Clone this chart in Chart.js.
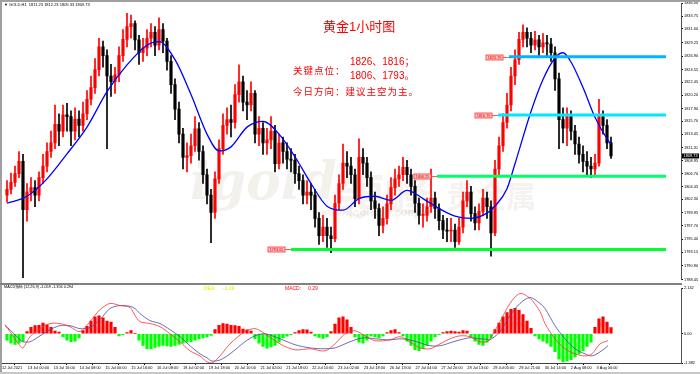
<!DOCTYPE html>
<html>
<head>
<meta charset="utf-8">
<script src="https://cdn.jsdelivr.net/npm/chart.js@4.4.1/dist/chart.umd.min.js"></script>
<style>
  html, body { margin:0; padding:0; background:#fff; }
  #wrap { position:relative; width:700px; height:374px; overflow:hidden; background:#fff; font-family:"Liberation Sans", Arial, sans-serif; }
  canvas { position:absolute; left:0; }
  .t { position:absolute; white-space:nowrap; line-height:1; }
  .cn { font-family:"Liberation Sans","Noto Sans CJK SC",sans-serif; color:#f00; }
  .wm { color:rgba(175,158,130,0.15); }
</style>
</head>
<body>
<div id="wrap">
  <div class="t wm" style="left:190px;top:150px;font:bold italic 52px 'DejaVu Serif';">igold</div>
  <div class="t wm" style="left:336px;top:158px;font:bold 48px 'Noto Sans CJK TC';">領峰</div>
  <div class="t wm" style="left:446px;top:172px;font:bold 30px 'Noto Sans CJK SC';">贵金属</div>
  <div class="t wm" style="left:318px;top:207px;font:bold 10px 'DejaVu Sans';">www.igoldhk.com</div>

  <canvas id="main" width="700" height="283" style="top:0"></canvas>
  <canvas id="macd" width="700" height="89" style="top:285px"></canvas>

  <div style="position:absolute;left:0;top:0;width:700px;height:2px;background:#a0a0a0"></div>
  <div style="position:absolute;left:0;top:0;width:2px;height:374px;background:#a0a0a0"></div>
  <div style="position:absolute;left:0;top:372px;width:700px;height:2px;background:#c8c8c8"></div>
  <div style="position:absolute;left:0;top:283px;width:682px;height:2px;background:#808080"></div>

  <div class="t" style="left:4px;top:3px;font-size:4px;color:#000">▼ GOLD,H1&nbsp; 1811.23 1812.23 1809.33 1809.73</div>

  <div class="t cn" style="left:323px;top:20px;font-size:13px;">黄金1小时图</div>
  <div class="t cn" style="left:293px;top:66px;font-size:9.5px;letter-spacing:1px;">关键点位：</div>
  <div class="t cn" style="left:350px;top:57px;font-size:10px;">1826、1816；</div>
  <div class="t cn" style="left:350px;top:71px;font-size:10px;">1806、1793。</div>
  <div class="t cn" style="left:293px;top:87px;font-size:9.5px;letter-spacing:1px;">今日方向：建议主空为主。</div>

  <div class="t" style="left:4px;top:286px;font-size:3.8px;color:#000;font-family:'Liberation Sans','Noto Sans CJK SC'">MACD指标 (12,26,9) -1.059 -1.356 0.294</div>
  <div class="t" style="left:204px;top:286px;font-size:5px;color:#e8e800">DEA:</div>
  <div class="t" style="left:223px;top:286px;font-size:5px;color:#e8e800">-1.19</div>
  <div class="t" style="left:285px;top:286px;font-size:5px;color:#f00">MACD:</div>
  <div class="t" style="left:308px;top:286px;font-size:5px;color:#f00">0.29</div>
</div>

<script>
// H1 gold candles, one per slot
const opens = [1803.0,1804.0,1805.2,1806.7,1808.8,1800.5,1803.5,1804.3,1803.0,1806.0,
1808.0,1810.5,1812.0,1815.2,1814.0,1816.8,1816.5,1814.0,1816.1,1815.0,
1817.0,1819.5,1821.5,1824.6,1828.5,1827.0,1823.5,1822.5,1823.7,1827.0,
1829.8,1832.0,1832.5,1829.7,1827.5,1828.3,1830.0,1831.0,1828.8,1831.5,
1829.5,1826.0,1822.0,1817.8,1813.5,1809.5,1809.8,1811.5,1814.4,1810.5,
1806.5,1803.0,1800.0,1805.8,1811.0,1815.0,1816.0,1815.5,1820.3,1822.5,
1819.0,1818.5,1820.5,1813.5,1814.5,1812.0,1812.5,1814.0,1808.4,1812.0,
1810.5,1809.2,1809.0,1806.7,1805.5,1803.0,1803.5,1803.0,1799.0,1796.0,
1797.5,1796.0,1795.5,1801.6,1805.0,1808.5,1808.0,1806.5,1802.4,1809.5,
1808.5,1806.0,1802.0,1800.7,1797.8,1799.0,1801.5,1804.3,1805.8,1806.5,
1807.8,1806.5,1804.5,1801.6,1799.5,1799.5,1801.0,1802.5,1800.7,1798.6,
1797.0,1796.8,1797.0,1795.0,1797.5,1802.0,1803.5,1799.8,1798.2,1800.2,
1802.5,1801.0,1796.5,1807.5,1811.5,1815.5,1818.5,1823.5,1826.3,1829.8,
1831.0,1830.0,1828.8,1829.7,1828.5,1829.2,1829.0,1827.5,1823.0,1816.0,
1814.5,1816.5,1814.0,1811.8,1810.0,1808.8,1808.0,1807.5,1808.5,1816.5,
1815.0,1812.0];
const closes = [1804.0,1805.2,1806.7,1808.8,1800.5,1803.5,1804.3,1803.0,1806.0,1808.0,
1810.5,1812.0,1815.2,1814.0,1816.8,1816.5,1814.0,1816.1,1815.0,1817.0,
1819.5,1821.5,1824.6,1828.5,1827.0,1823.5,1822.5,1823.7,1827.0,1829.8,
1832.0,1832.5,1829.7,1827.5,1828.3,1830.0,1831.0,1828.8,1831.5,1829.5,
1826.0,1822.0,1817.8,1813.5,1809.5,1809.8,1811.5,1814.4,1810.5,1806.5,
1803.0,1800.0,1805.8,1811.0,1815.0,1816.0,1815.5,1820.3,1822.5,1819.0,
1818.5,1820.5,1813.5,1814.5,1812.0,1812.5,1814.0,1808.4,1812.0,1810.5,
1809.2,1809.0,1806.7,1805.5,1803.0,1803.5,1803.0,1799.0,1796.0,1797.5,
1796.0,1795.5,1801.6,1805.0,1808.5,1808.0,1806.5,1802.4,1809.5,1808.5,
1806.0,1802.0,1800.7,1797.8,1799.0,1801.5,1804.3,1805.8,1806.5,1807.8,
1806.5,1804.5,1801.6,1799.5,1799.5,1801.0,1802.5,1800.7,1798.6,1797.0,
1796.8,1797.0,1795.0,1797.5,1802.0,1803.5,1799.8,1798.2,1800.2,1802.5,
1801.0,1796.5,1807.5,1811.5,1815.5,1818.5,1823.5,1826.3,1829.8,1831.0,
1830.0,1828.8,1829.7,1828.5,1829.2,1829.0,1827.5,1823.0,1816.0,1814.5,
1816.5,1814.0,1811.8,1810.0,1808.8,1808.0,1807.5,1808.5,1816.5,1815.0,
1812.0,1809.73];
const highs = [1805.5,1806.8,1808.0,1810.5,1810.0,1805.0,1806.0,1805.5,1807.0,1810.0,
1812.0,1814.0,1818.5,1817.0,1818.5,1818.8,1817.5,1818.0,1817.5,1819.0,
1821.0,1823.5,1826.5,1830.0,1829.5,1828.0,1825.5,1825.0,1828.5,1831.5,
1834.3,1834.0,1833.0,1830.5,1830.0,1831.5,1832.5,1832.0,1833.5,1832.5,
1830.0,1827.0,1823.0,1819.0,1814.5,1812.0,1813.5,1816.5,1815.5,1811.5,
1807.5,1804.0,1807.0,1812.5,1817.0,1818.0,1818.5,1822.0,1825.4,1823.5,
1821.0,1822.5,1821.0,1816.5,1815.5,1814.5,1816.5,1815.0,1813.5,1813.0,
1812.0,1811.0,1810.0,1808.0,1806.5,1805.5,1805.0,1804.0,1800.0,1799.5,
1799.0,1797.5,1803.0,1806.5,1811.8,1810.5,1809.5,1807.5,1812.7,1811.0,
1809.5,1807.0,1803.5,1801.5,1801.0,1803.0,1806.0,1807.5,1808.0,1809.5,
1809.0,1807.5,1805.5,1802.5,1801.5,1802.5,1807.5,1803.5,1801.5,1799.5,
1799.0,1799.0,1798.0,1799.0,1803.5,1805.5,1804.5,1801.0,1801.5,1804.0,
1803.5,1802.0,1809.0,1813.0,1817.0,1820.5,1825.0,1828.0,1831.0,1832.3,
1831.8,1831.0,1831.2,1830.5,1830.8,1830.5,1830.0,1828.5,1824.0,1818.0,
1818.0,1817.5,1815.0,1813.0,1811.5,1810.5,1809.5,1810.0,1819.5,1817.5,
1816.0,1813.0];
const lows = [1801.8,1803.2,1804.5,1806.0,1788.8,1798.5,1802.0,1801.0,1802.0,1805.0,
1807.0,1809.5,1811.0,1811.5,1813.0,1814.0,1811.5,1812.5,1813.0,1814.0,
1816.0,1818.5,1820.5,1823.5,1825.0,1811.0,1820.0,1820.5,1822.5,1826.0,
1828.5,1830.0,1828.0,1825.5,1826.0,1827.0,1828.5,1827.0,1828.0,1827.5,
1824.5,1820.5,1816.0,1812.0,1807.5,1807.0,1808.5,1810.5,1809.0,1805.0,
1801.5,1794.8,1799.0,1805.0,1810.0,1813.5,1813.0,1814.5,1819.0,1817.5,
1816.0,1817.5,1812.0,1811.5,1810.0,1810.0,1811.0,1807.0,1807.5,1808.5,
1807.5,1807.0,1805.0,1804.0,1801.5,1801.5,1800.5,1797.5,1794.5,1795.0,
1794.0,1793.1,1795.0,1800.5,1804.0,1806.0,1805.0,1801.0,1801.5,1806.5,
1804.5,1800.5,1799.0,1796.0,1796.5,1798.0,1800.5,1803.0,1804.5,1805.5,
1805.0,1803.0,1800.0,1798.0,1797.5,1798.5,1800.0,1799.0,1797.0,1795.5,
1795.0,1795.0,1794.0,1794.5,1796.5,1801.0,1798.5,1797.0,1797.0,1799.5,
1799.0,1792.5,1796.0,1806.5,1810.5,1814.5,1817.5,1822.0,1825.5,1828.5,
1828.5,1827.5,1828.0,1827.0,1827.5,1827.0,1826.0,1821.0,1811.0,1812.0,
1811.5,1812.5,1810.0,1808.5,1807.0,1806.5,1806.0,1806.2,1808.0,1813.5,
1811.0,1809.3];

// blue moving average, sampled
const maIdx = [0,5,10,15,20,25,30,35,38,42,46,50,53,56,60,64,68,72,76,80,84,88,92,96,100,104,108,112,116,120,122,125,127,131,134,137,139,141,144,147,150,151];
const maVal = [1801.6,1802.8,1805.8,1810.1,1814.7,1820.8,1825.4,1828.8,1829.4,1826.3,1820.3,1813.5,1810.6,1811.3,1814.7,1815.7,1813.5,1809.6,1805.0,1801.1,1800.4,1802.4,1802.8,1802.1,1803.8,1802.4,1800.7,1799.4,1799.0,1799.9,1801.1,1804.1,1808.4,1817.4,1822.9,1826.6,1827.5,1825.9,1821.5,1816.4,1812.7,1811.8];

// key levels drawn on chart
const levelValues = [1826.79, 1816.79, 1806.25, 1793.65];
const levelStarts = [125.5, 122.75, 107.5, 71];
const levelEnd = 164.75;

// MACD
const hist = [-0.30,-0.45,-0.50,-0.45,-0.35,0.10,0.30,0.38,0.40,0.50,
0.42,0.30,0.12,0.08,-0.15,-0.30,-0.38,-0.35,-0.20,0.15,
0.35,0.60,0.80,0.85,0.75,0.60,0.55,0.30,-0.10,-0.05,
0.05,0.15,0.02,-0.30,-0.55,-0.70,-0.72,-0.65,-0.60,-0.55,
-0.58,-0.60,-0.55,-0.50,-0.45,-0.40,-0.38,-0.30,-0.25,-0.20,
-0.15,-0.08,0.20,0.40,0.48,0.45,0.40,0.38,0.35,0.22,
0.18,0.12,-0.25,-0.45,-0.60,-0.68,-0.62,-0.55,-0.40,-0.20,
-0.12,-0.05,0.05,0.15,0.20,0.18,0.08,-0.10,-0.18,-0.22,
-0.15,0.10,0.45,0.75,0.80,0.65,0.30,-0.15,-0.40,-0.45,
-0.30,-0.10,-0.15,-0.20,-0.10,0.05,0.15,0.20,0.05,-0.10,
-0.35,-0.55,-0.75,-0.80,-0.70,-0.55,-0.35,-0.15,-0.05,0.05,
0.10,0.12,0.10,0.08,0.15,0.12,-0.15,-0.35,-0.50,-0.55,
-0.40,-0.20,0.20,0.50,0.80,1.00,1.15,1.20,1.10,0.90,
0.60,0.25,-0.10,-0.25,-0.35,-0.45,-0.60,-0.85,-1.20,-1.33,
-1.30,-1.22,-1.10,-0.95,-0.80,-0.60,-0.40,0.30,0.70,0.80,
0.55,0.29];
const lineIdx = [-0.5,0.75,3.25,4,5.75,8.25,10.75,13.25,15.75,18.25,20.75,23.25,25.75,28.25,30.75,32,33.25,35.75,38.25,40.75,43.25,45.75,48.25,50,51.25,53.25,55.75,59.5,62,64.5,68.25,72,75.75,79.5,82,84.5,87,89.5,92,95.75,98.25,100.75,103.25,105.75,108.25,110.75,113.25,115.75,118.25,120,120.75,123.25,125.75,128.25,130.75,133.25,134.5,137,139.5,142,144.5,146.25,148.25,150.25];
const difVals = [0.43,0.10,-0.57,-0.67,-0.14,0.24,0.48,0.48,0.33,0.10,0.57,1.14,1.43,1.33,1.24,0.86,0.57,0.48,0.33,0.00,-0.38,-0.81,-1.05,-1.33,-1.38,-1.05,-0.48,0.10,0.24,0.00,-0.48,-0.76,-0.71,-0.81,-0.48,0.00,0.14,-0.10,-0.33,-0.29,-0.14,-0.38,-0.67,-0.71,-0.48,-0.24,-0.10,-0.14,-0.38,-0.38,-0.24,0.57,1.43,1.90,1.67,1.05,0.48,-0.24,-0.71,-0.95,-1.05,-0.95,-0.48,-0.33];
const deaVals = [0.38,0.19,-0.29,-0.38,-0.38,-0.10,0.19,0.38,0.38,0.24,0.29,0.67,1.19,1.33,1.29,1.19,0.95,0.62,0.48,0.19,-0.14,-0.57,-0.95,-1.14,-1.29,-1.24,-0.95,-0.38,-0.10,0.00,-0.24,-0.52,-0.67,-0.71,-0.67,-0.48,-0.29,-0.19,-0.24,-0.29,-0.24,-0.29,-0.43,-0.57,-0.57,-0.43,-0.29,-0.19,-0.24,-0.26,-0.29,0.10,0.86,1.43,1.71,1.43,1.19,0.38,-0.24,-0.71,-0.95,-1.05,-0.86,-0.57];

// axis labels
const priceTicks = [1836.00,1833.75,1831.60,1829.25,1826.90,1824.55,1822.45,1820.20,1817.90,1815.70,1813.45,1811.20,1808.95,1806.70,1804.45,1802.30,1799.95,1797.70,1795.40,1793.15,1790.90,1788.45];
const macdTicks = [2.142, 0, -1.382];
const timeLabels = ["12 Jul 2021","13 Jul 00:00","13 Jul 16:00","14 Jul 08:00","15 Jul 00:00","15 Jul 16:00","16 Jul 08:00","19 Jul 02:00","19 Jul 18:00","20 Jul 10:00","21 Jul 02:00","21 Jul 18:00","22 Jul 10:00","23 Jul 02:00","23 Jul 18:00","26 Jul 13:00","27 Jul 04:00","27 Jul 20:00","28 Jul 13:00","29 Jul 05:00","29 Jul 21:00","30 Jul 14:00","2 Aug 08:00","3 Aug 00:00"];
const timeTickStep = 6.4625;

const X_MIN = -1.25, X_MAX = 168.5;
const tickFont = { family: 'Liberation Sans', size: 3.9 };
const upColor = '#ff0000', downColor = '#000000';
const levelColors = ['#00b4ff', '#00e8ff', '#00ff66', '#00ff30'];

const candleColors = closes.map((c, i) => c >= opens[i] ? upColor : downColor);

const overlay = {
  id: 'overlay',
  afterDraw(chart) {
    const { ctx, chartArea, scales: { x, y } } = chart;
    ctx.save();
    ctx.textBaseline = 'middle';
    ctx.font = '3.8px "Liberation Sans"';
    levelValues.forEach((v, k) => {
      const xs = x.getPixelForValue(levelStarts[k]);
      const yp = Math.round(y.getPixelForValue(v)) + 0.5;
      const bw = 17, bh = 5, bx = xs - 23;
      ctx.strokeStyle = '#ff3030';
      ctx.lineWidth = 0.8;
      ctx.beginPath(); ctx.moveTo(bx + bw, yp); ctx.lineTo(xs, yp); ctx.stroke();
      ctx.fillStyle = '#ffc4c4';
      ctx.fillRect(bx, yp - bh / 2, bw, bh);
      ctx.strokeRect(bx, yp - bh / 2, bw, bh);
      ctx.fillStyle = '#d00000';
      ctx.textAlign = 'center';
      ctx.fillText(v.toFixed(2), bx + bw / 2, yp);
    });
    const last = closes[closes.length - 1];
    const yl = y.getPixelForValue(last);
    ctx.fillStyle = '#000';
    ctx.fillRect(chartArea.right + 1, yl - 2.5, 17, 5);
    ctx.fillStyle = '#fff';
    ctx.textAlign = 'left';
    ctx.font = '3.9px "Liberation Sans"';
    ctx.fillText(last.toFixed(2), chartArea.right + 2.5, yl);
    ctx.restore();
  }
};

new Chart(document.getElementById('main'), {
  type: 'bar',
  data: {
    datasets: [
      ...levelValues.map((v, k) => ({
        type: 'line', order: 0,
        data: [{ x: levelStarts[k], y: v }, { x: levelEnd, y: v }],
        borderColor: levelColors[k], borderWidth: 3, pointRadius: 0
      })),
      {
        type: 'line', order: 1,
        data: maIdx.map((v, k) => ({ x: v, y: maVal[k] })),
        borderColor: '#0000ff', borderWidth: 1.3, pointRadius: 0,
        cubicInterpolationMode: 'monotone'
      },
      {
        order: 2, grouped: false, barThickness: 2.5, minBarLength: 1,
        data: closes.map((c, i) => ({ x: i, y: [opens[i], c] })),
        backgroundColor: candleColors, borderWidth: 0
      },
      {
        order: 3, grouped: false, barThickness: 1,
        data: highs.map((h, i) => ({ x: i, y: [lows[i], h] })),
        backgroundColor: candleColors, borderWidth: 0
      }
    ]
  },
  options: {
    responsive: false, animation: false, events: [],
    layout: { padding: { left: 2, top: 3, right: 0, bottom: 1 } },
    plugins: { legend: { display: false }, tooltip: { enabled: false } },
    scales: {
      x: { type: 'linear', min: X_MIN, max: X_MAX, display: false, offset: false },
      y: {
        position: 'right', min: 1788.45, max: 1836,
        afterFit: s => { s.width = 19; },
        afterBuildTicks: s => { s.ticks = priceTicks.map(v => ({ value: v })); },
        ticks: { font: tickFont, color: '#000', padding: 1, callback: v => Number(v).toFixed(2) },
        grid: { drawOnChartArea: false, tickLength: 2, color: '#000' },
        border: { color: '#505050' }
      }
    }
  },
  plugins: [overlay]
});

new Chart(document.getElementById('macd'), {
  type: 'bar',
  data: {
    datasets: [
      {
        type: 'line', order: 0,
        data: lineIdx.map((v, k) => ({ x: v, y: difVals[k] })),
        borderColor: '#ff3030', borderWidth: 0.8, pointRadius: 0, tension: 0.3
      },
      {
        type: 'line', order: 1,
        data: lineIdx.map((v, k) => ({ x: v, y: deaVals[k] })),
        borderColor: '#4848a8', borderWidth: 0.8, pointRadius: 0, tension: 0.3
      },
      {
        order: 2, grouped: false, barThickness: 2.5,
        data: hist.map((v, i) => ({ x: i, y: v })),
        backgroundColor: hist.map(v => v >= 0 ? '#ff0000' : '#00ff00'), borderWidth: 0
      }
    ]
  },
  options: {
    responsive: false, animation: false, events: [],
    layout: { padding: { left: 2, top: 0, right: 0, bottom: 0 } },
    plugins: { legend: { display: false }, tooltip: { enabled: false } },
    scales: {
      x: {
        type: 'linear', min: X_MIN, max: X_MAX, offset: false,
        afterFit: s => { s.height = 11; },
        afterBuildTicks: s => { s.ticks = timeLabels.map((t, k) => ({ value: X_MIN + timeTickStep * k })); },
        ticks: { font: tickFont, color: '#000', align: 'start', maxRotation: 0, autoSkip: false, padding: 1,
                 callback: (v, k) => timeLabels[k] },
        grid: { drawOnChartArea: false, tickLength: 2, color: '#000' },
        border: { color: '#404040' }
      },
      y: {
        position: 'right', min: -1.382, max: 2.142,
        afterFit: s => { s.width = 19; },
        afterBuildTicks: s => { s.ticks = macdTicks.map(v => ({ value: v })); },
        ticks: { font: tickFont, color: '#000', padding: 1, callback: v => v === 0 ? '0.00' : Number(v).toFixed(3) },
        grid: { drawOnChartArea: false, tickLength: 2, color: '#000' },
        border: { color: '#505050' }
      }
    }
  }
});
</script>
</body>
</html>
